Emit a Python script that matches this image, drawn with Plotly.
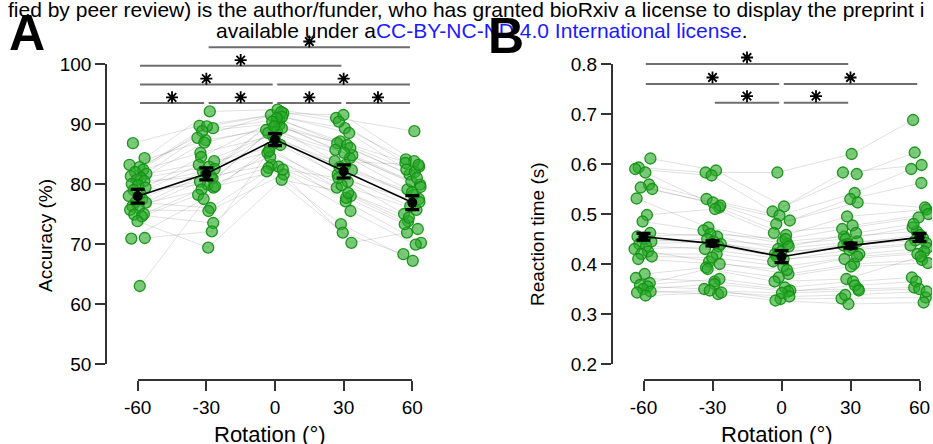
import plotly.graph_objects as go

W, H = 933, 444

# ---------------- data ----------------
rotations = [-60, -30, 0, 30, 60]
tick_labels = ["-60", "-30", "0", "30", "60"]
acc_ticks = [50, 60, 70, 80, 90, 100]
rt_ticks = [0.2, 0.3, 0.4, 0.5, 0.6, 0.7, 0.8]
rt_tick_labels = ["0.2", "0.3", "0.4", "0.5", "0.6", "0.7", "0.8"]

# accuracy (%) per participant, one list per rotation
acc_m60 = [86.8, 84.3, 83.2, 82.8, 82.4, 82.0, 81.7, 81.3, 81.0, 80.7, 80.5, 80.0, 79.8, 79.4, 79.0,
           78.5, 78.0, 77.5, 77.0, 76.9, 76.3, 76.0, 75.7, 75.0, 74.9, 74.6, 73.8, 71.0, 70.9, 63.0]
acc_m30 = [89.7, 92.1, 87.3, 89.3, 85.2, 89.6, 83.8, 88.8, 82.9, 87.7, 81.3, 86.9, 82.5, 84.5, 79.9,
           83.2, 80.9, 82.1, 76.0, 81.8, 79.4, 80.4, 75.5, 79.1, 73.5, 78.2, 69.4, 72.1, 77.5, 79.6]
acc_0 = [91.5, 92.4, 89.0, 90.7, 88.0, 91.8, 86.0, 90.1, 85.2, 92.0, 83.2, 89.8, 87.5, 91.2, 82.7,
         88.7, 84.5, 89.3, 82.1, 91.0, 86.5, 90.4, 81.6, 88.5, 82.9, 89.6, 80.7, 85.5, 87.0, 82.4]
acc_p30 = [89.3, 91.0, 84.3, 87.1, 80.4, 91.5, 78.0, 86.8, 77.1, 90.4, 75.5, 85.7, 83.2, 88.5, 73.3,
           84.8, 79.4, 86.5, 71.9, 86.0, 81.6, 85.2, 70.2, 82.8, 77.7, 83.8, 78.5, 79.8, 82.3, 81.0]
acc_p60 = [84.1, 88.8, 79.1, 82.9, 75.0, 83.8, 72.5, 81.6, 70.2, 83.5, 69.9, 80.4, 77.5, 82.4, 67.2,
           79.9, 73.8, 82.0, 68.3, 81.0, 76.3, 79.5, 71.9, 78.2, 73.3, 83.2, 74.4, 75.7, 78.6, 77.0]
acc_mean = [77.96, 81.7, 87.4, 82.1, 76.9]
acc_sem = [1.16, 1.0, 1.0, 1.1, 1.16]

# reaction time (s) per participant
rt_m60 = [0.593, 0.611, 0.590, 0.583, 0.559, 0.553, 0.550, 0.531, 0.498, 0.485, 0.462, 0.455, 0.450, 0.445, 0.440,
          0.436, 0.430, 0.425, 0.420, 0.415, 0.410, 0.380, 0.372, 0.362, 0.358, 0.355, 0.350, 0.345, 0.343, 0.337]
rt_m30 = [0.583, 0.587, 0.577, 0.513, 0.530, 0.523, 0.517, 0.473, 0.510, 0.467, 0.455, 0.460, 0.440, 0.450, 0.445,
          0.430, 0.435, 0.405, 0.420, 0.413, 0.400, 0.393, 0.365, 0.390, 0.370, 0.350, 0.360, 0.340, 0.347, 0.343]
rt_0 = [0.583, 0.515, 0.505, 0.458, 0.497, 0.487, 0.480, 0.445, 0.462, 0.440, 0.430, 0.450, 0.425, 0.435, 0.420,
        0.410, 0.415, 0.380, 0.405, 0.395, 0.388, 0.373, 0.347, 0.365, 0.353, 0.330, 0.345, 0.327, 0.342, 0.335]
rt_p30 = [0.620, 0.583, 0.580, 0.495, 0.542, 0.530, 0.523, 0.455, 0.477, 0.450, 0.445, 0.470, 0.432, 0.462, 0.440,
          0.420, 0.437, 0.400, 0.428, 0.415, 0.410, 0.395, 0.350, 0.370, 0.365, 0.331, 0.357, 0.320, 0.347, 0.338]
rt_p60 = [0.688, 0.598, 0.623, 0.509, 0.590, 0.562, 0.513, 0.465, 0.500, 0.473, 0.452, 0.493, 0.442, 0.480, 0.458,
          0.432, 0.447, 0.408, 0.437, 0.425, 0.420, 0.402, 0.353, 0.415, 0.373, 0.333, 0.365, 0.323, 0.350, 0.345]
rt_mean = [0.4546, 0.4413, 0.4146, 0.4367, 0.4533]
rt_sem = [0.0067, 0.005, 0.012, 0.005, 0.008]

# significance comparisons: (from rotation, to rotation, bar level)
acc_sig = [(-30, 60, 102.8), (-60, 30, 99.7), (-60, 0, 96.6), (0, 60, 96.6),
           (-60, -30, 93.5), (-30, 0, 93.5), (0, 30, 93.5), (30, 60, 93.5)]
rt_sig = [(-60, 30, 0.800), (-60, 0, 0.760), (0, 60, 0.760), (-30, 0, 0.7226), (0, 30, 0.7226)]

# hand-set horizontal jitter (degrees) for the individual dots
jitter = [-2.1, 3.0, -3.6, 0.8, 2.4, -1.2, 3.8, -3.0, 1.5, -0.4, 2.9, -2.6, 0.2, 3.4, -1.8,
          1.1, -3.9, 2.0, -0.9, 3.6, -2.3, 0.5, -3.3, 2.7, -1.5, 1.8, -0.1, 3.1, -2.8, 0.9]

# ---------------- styling ----------------
FONT = "Liberation Sans, Arial, sans-serif"
AXC = "#333333"
GREEN_FILL = "rgba(40,170,40,0.62)"
GREEN_LINE = "rgba(20,145,20,0.95)"
GREY_LINE = "rgba(0,0,0,0.12)"
SIG_COL = "#6e6e6e"


def px_x(p):
    return p / W


def px_y(p):
    return 1 - p / H


fig = go.Figure()


def add_panel(cols, mean, sem, sig, xa, ya, star_off, gap):
    n = len(cols[0])
    jx = [[rotations[k] + jitter[(i + 7 * k) % len(jitter)] for i in range(n)] for k in range(len(cols))]
    # participant lines
    lx, ly = [], []
    for i in range(n):
        for k in range(len(cols)):
            lx.append(jx[k][i])
            ly.append(cols[k][i])
        lx.append(None)
        ly.append(None)
    fig.add_trace(go.Scatter(x=lx, y=ly, mode="lines", line=dict(color=GREY_LINE, width=1),
                             xaxis=xa, yaxis=ya, hoverinfo="skip", showlegend=False))
    # dots
    px, py = [], []
    for k in range(len(cols)):
        px += jx[k]
        py += cols[k]
    fig.add_trace(go.Scatter(x=px, y=py, mode="markers",
                             marker=dict(size=11, color=GREEN_FILL, line=dict(color=GREEN_LINE, width=1.3)),
                             xaxis=xa, yaxis=ya, showlegend=False))
    # mean + sem
    fig.add_trace(go.Scatter(x=rotations, y=mean, mode="lines+markers",
                             line=dict(color="black", width=1.6),
                             marker=dict(size=10, color="black"),
                             error_y=dict(type="data", array=sem, color="black", thickness=3.2, width=7),
                             xaxis=xa, yaxis=ya, showlegend=False))
    # significance bars
    bx, by, sx, sy = [], [], [], []
    for a, b, lev in sig:
        bx += [a + gap, b - gap, None]
        by += [lev, lev, None]
        sx.append((a + b) / 2)
        sy.append(lev + star_off)
    fig.add_trace(go.Scatter(x=bx, y=by, mode="lines", line=dict(color=SIG_COL, width=2),
                             xaxis=xa, yaxis=ya, hoverinfo="skip", showlegend=False))
    fig.add_trace(go.Scatter(x=sx, y=sy, mode="markers",
                             marker=dict(symbol="asterisk-open", size=10, color="black",
                                         line=dict(color="black", width=1.8)),
                             xaxis=xa, yaxis=ya, hoverinfo="skip", showlegend=False))


add_panel([acc_m60, acc_m30, acc_0, acc_p30, acc_p60], acc_mean, acc_sem, acc_sig, "x", "y", 0.95, 1.0)
add_panel([rt_m60, rt_m30, rt_0, rt_p30, rt_p60], rt_mean, rt_sem, rt_sig, "x2", "y2", 0.013, 1.0)

# dummy traces so the visual axes render
for xa, ya, xv, yv in [("x", "y3", 0, 75), ("x3", "y", 0, 75), ("x2", "y4", 0, 0.5), ("x4", "y2", 0, 0.5)]:
    fig.add_trace(go.Scatter(x=[xv], y=[yv], mode="markers", marker=dict(opacity=0, size=1),
                             xaxis=xa, yaxis=ya, hoverinfo="skip", showlegend=False))

vis_axis = dict(showline=True, linecolor=AXC, linewidth=1.6, ticks="outside", ticklen=10,
                tickwidth=1.6, tickcolor=AXC, showgrid=False, zeroline=False, automargin=False,
                tickfont=dict(size=19, color="black", family=FONT), fixedrange=True)
hidden = dict(visible=False, showgrid=False, zeroline=False, fixedrange=True, automargin=False)

fig.update_layout(
    template="none",
    width=W, height=H,
    margin=dict(l=0, r=0, t=0, b=0, pad=0, autoexpand=False),
    paper_bgcolor="white", plot_bgcolor="rgba(0,0,0,0)",
    font=dict(family=FONT, color="black"),
    showlegend=False,
    xaxis=dict(domain=[px_x(100), px_x(430)], range=[-76.48, 67.74], anchor="y", **hidden),
    yaxis=dict(domain=[px_y(380), px_y(30)], range=[47.333, 105.667], anchor="x", **hidden),
    xaxis2=dict(domain=[px_x(605), px_x(932)], range=[-76.74, 65.43], anchor="y2", **hidden),
    yaxis2=dict(domain=[px_y(380), px_y(30)], range=[0.168, 0.868], anchor="x2", **hidden),
    yaxis3=dict(domain=[px_y(364), px_y(64)], range=[50, 100], anchor="free", position=px_x(106),
                tickvals=acc_ticks, ticktext=[str(v) for v in acc_ticks], **vis_axis),
    xaxis3=dict(domain=[px_x(137.7), px_x(412.3)], range=[-60, 60], anchor="free", position=px_y(380),
                tickvals=rotations, ticktext=tick_labels, **vis_axis),
    yaxis4=dict(domain=[px_y(364), px_y(64)], range=[0.2, 0.8], anchor="free", position=px_x(611.7),
                tickvals=rt_ticks, ticktext=rt_tick_labels, **vis_axis),
    xaxis4=dict(domain=[px_x(643.5), px_x(919.5)], range=[-60, 60], anchor="free", position=px_y(380),
                tickvals=rotations, ticktext=tick_labels, **vis_axis),
)

ann = []
# axis titles
ann.append(dict(text="Rotation (°)", x=px_x(270), y=px_y(434), xref="paper", yref="paper",
                showarrow=False, xanchor="center", yanchor="middle", font=dict(size=22)))
ann.append(dict(text="Rotation (°)", x=px_x(777), y=px_y(434), xref="paper", yref="paper",
                showarrow=False, xanchor="center", yanchor="middle", font=dict(size=22)))
ann.append(dict(text="Accuracy (%)", x=px_x(45), y=px_y(236), xref="paper", yref="paper", textangle=-90,
                showarrow=False, xanchor="center", yanchor="middle", font=dict(size=19)))
ann.append(dict(text="Reaction time (s)", x=px_x(538), y=px_y(234), xref="paper", yref="paper", textangle=-90,
                showarrow=False, xanchor="center", yanchor="middle", font=dict(size=19)))
# header text
ann.append(dict(text="fied by peer review) is the author/funder, who has granted bioRxiv a license to display the preprint i",
                x=px_x(466), y=px_y(9), xref="paper", yref="paper", showarrow=False,
                xanchor="center", yanchor="middle", font=dict(size=21)))
ann.append(dict(text="available under a<span style='color:#1a1aff'>CC-BY-NC-ND 4.0 International license</span>.",
                x=px_x(482), y=px_y(31), xref="paper", yref="paper", showarrow=False,
                xanchor="center", yanchor="middle", font=dict(size=21)))
# panel letters
ann.append(dict(text="<b>A</b>", x=px_x(27), y=px_y(33), xref="paper", yref="paper", showarrow=False,
                xanchor="center", yanchor="middle", font=dict(size=50)))
ann.append(dict(text="<b>B</b>", x=px_x(506), y=px_y(36), xref="paper", yref="paper", showarrow=False,
                xanchor="center", yanchor="middle", font=dict(size=50)))
fig.update_layout(annotations=ann)

fig.write_html("out.html", config={"displayModeBar": False},
               post_script="document.body.style.margin='0px';")
